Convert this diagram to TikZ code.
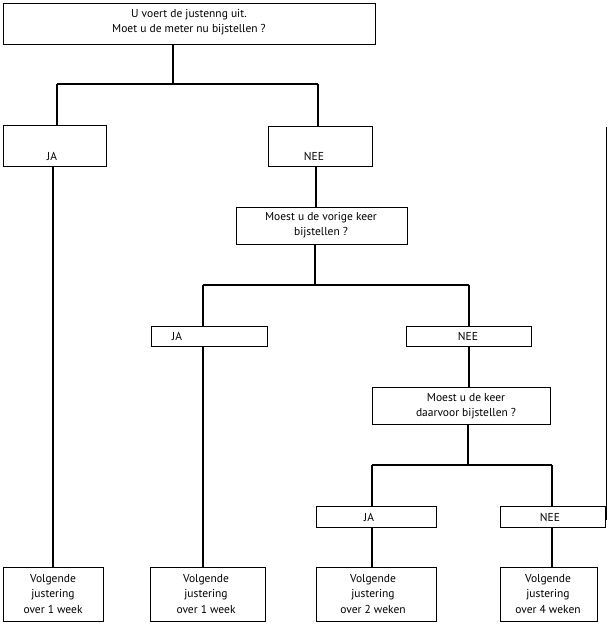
\documentclass[tikz,border=0pt]{standalone}
\usepackage{fontspec}
\setmainfont{PT Sans}
\begin{document}
\begin{tikzpicture}[x=1pt,y=-1pt,
  box/.style={draw,line width=1.3pt,rectangle,inner sep=0pt,anchor=north west},
  txt/.style={font=\fontsize{11.5}{15.5}\selectfont,align=center,inner sep=0pt},
  conn/.style={line width=1.1pt}]
\useasboundingbox (0,0) rectangle (608,629);
% boxes
\node[box,minimum width=372,minimum height=41] (top) at (3,3) {};
\node[box,minimum width=103,minimum height=41] (ja1) at (3,125) {};
\node[box,minimum width=104,minimum height=40] (nee1) at (268,126) {};
\node[box,minimum width=171,minimum height=37] (vor) at (236,207) {};
\node[box,minimum width=116,minimum height=20] (ja2) at (151,326) {};
\node[box,minimum width=125,minimum height=20] (nee2) at (406,326) {};
\node[box,minimum width=178,minimum height=37] (daar) at (372,387) {};
\node[box,minimum width=120,minimum height=21] (ja3) at (316,506) {};
\node[box,minimum width=105,minimum height=21] (nee3) at (500,506) {};
\node[box,minimum width=100,minimum height=54] (v1) at (3,567) {};
\node[box,minimum width=115,minimum height=54] (v2) at (150,567) {};
\node[box,minimum width=120,minimum height=54] (v3) at (316,567) {};
\node[box,minimum width=97,minimum height=54] (v4) at (500,567) {};
% texts
\node[txt] (top-t) at (189,22) {U voert de justenng uit.\\Moet u de meter nu bijstellen ?};
\node[txt] (ja1-t) at (52,156) {JA};
\node[txt] (nee1-t) at (314,156) {NEE};
\node[txt] (vor-t) at (321,225) {Moest u de vorige keer\\bijstellen ?};
\node[txt] (ja2-t) at (177,336) {JA};
\node[txt] (nee2-t) at (468,336) {NEE};
\node[txt] (daar-t) at (466,406) {Moest u de keer\\daarvoor bijstellen ?};
\node[txt] (ja3-t) at (369,517) {JA};
\node[txt] (nee3-t) at (550,517) {NEE};
\node[txt] (v1-t) at (53,594) {Volgende\\justering\\over 1 week};
\node[txt] (v2-t) at (206,594) {Volgende\\justering\\over 1 week};
\node[txt] (v3-t) at (373,594) {Volgende\\justering\\over 2 weken};
\node[txt] (v4-t) at (548,594) {Volgende\\justering\\over 4 weken};
% connectors level 1
\coordinate (j1) at (173,84);
\coordinate (b1l) at (57,84);
\coordinate (b1r) at (318,84);
\draw[conn] (top.south -| j1) -- (j1);
\draw[conn] (b1l) -- (b1r);
\draw[conn] (b1l) -- (b1l |- ja1.north);
\draw[conn] (b1r) -- (b1r |- nee1.north);
\coordinate (c1) at (53,0);
\draw[conn] (ja1.south -| c1) -- (c1 |- v1.north);
\coordinate (c2) at (316,0);
\draw[conn] (nee1.south -| c2) -- (c2 |- vor.north);
% level 2
\coordinate (j2) at (315,285);
\coordinate (b2l) at (203,285);
\coordinate (b2r) at (469,285);
\draw[conn] (vor.south -| j2) -- (j2);
\draw[conn] (b2l) -- (b2r);
\draw[conn] (b2l) -- (b2l |- ja2.north);
\draw[conn] (b2r) -- (b2r |- nee2.north);
\draw[conn] (ja2.south -| b2l) -- (b2l |- v2.north);
\draw[conn] (nee2.south -| b2r) -- (b2r |- daar.north);
% level 3
\coordinate (j3) at (468,465);
\coordinate (b3l) at (372,465);
\coordinate (b3r) at (552,465);
\draw[conn] (daar.south -| j3) -- (j3);
\draw[conn] (b3l) -- (b3r);
\draw[conn] (b3l) -- (b3l |- ja3.north);
\draw[conn] (b3r) -- (b3r |- nee3.north);
\draw[conn] (ja3.south -| b3l) -- (b3l |- v3.north);
\draw[conn] (nee3.south -| b3r) -- (b3r |- v4.north);
% right edge line
\coordinate (e1) at (606,127);
\coordinate (e2) at (606,520);
\draw[line width=1pt] (e1) -- (e2);
\end{tikzpicture}
\end{document}
